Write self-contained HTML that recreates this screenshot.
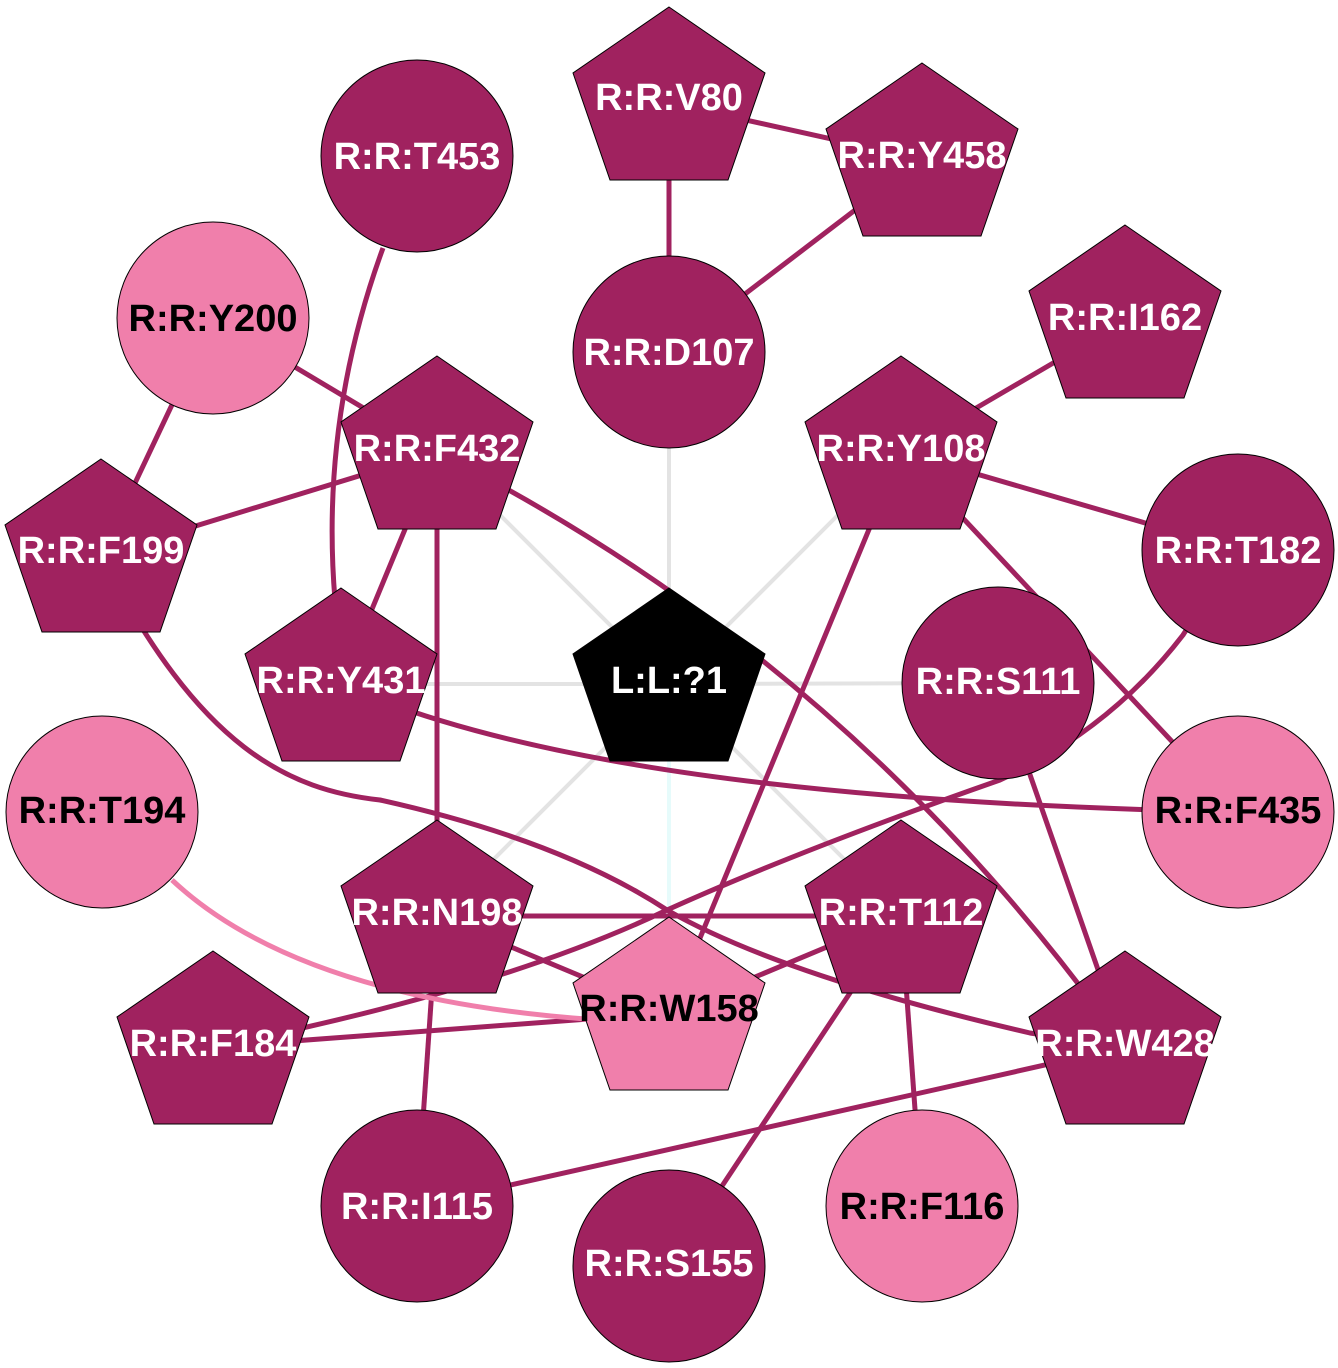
<!DOCTYPE html>
<html><head><meta charset="utf-8"><style>body{margin:0;background:#fff}svg{display:block}</style></head><body>
<svg width="1338" height="1368" viewBox="0 0 1338 1368" xmlns="http://www.w3.org/2000/svg">
<defs>
<polygon id="pent" points="0,-96 96,-30 59,77 -59,77 -96,-30" stroke="#000" stroke-width="1"/>
</defs>
<g stroke="#e3e3e3" stroke-width="4" fill="none">
<line x1="669" y1="684" x2="669" y2="352"/>
<line x1="669" y1="684" x2="901" y2="452"/>
<line x1="669" y1="684" x2="998" y2="683"/>
<line x1="669" y1="684" x2="901" y2="916"/>
<line x1="669" y1="684" x2="437" y2="916"/>
<line x1="669" y1="684" x2="341" y2="684"/>
<line x1="669" y1="684" x2="437" y2="452"/>
<line x1="669" y1="684" x2="669" y2="1013" stroke="#e6fbfb"/>
</g>
<g stroke="#a0225f" stroke-width="5" fill="none">
<line x1="669" y1="103" x2="922" y2="159"/>
<line x1="669" y1="103" x2="669" y2="352"/>
<line x1="922" y1="159" x2="669" y2="352"/>
<line x1="1125" y1="321" x2="901" y2="452"/>
<line x1="901" y1="452" x2="1238" y2="550"/>
<line x1="901" y1="452" x2="1238" y2="812"/>
<line x1="901" y1="452" x2="669" y2="1013"/>
<path d="M383,248 Q320,420 335,600"/>
<line x1="213" y1="318" x2="437" y2="452"/>
<line x1="213" y1="318" x2="101" y2="555"/>
<line x1="101" y1="555" x2="437" y2="452"/>
<line x1="437" y1="452" x2="341" y2="684"/>
<line x1="437" y1="452" x2="437" y2="916"/>
<path d="M437,452 Q850,660 1125,1047"/>
<path d="M101,555 C200,750 290,790 380,800 Q560,840 667,910 Q780,975 1030,1033 L1125,1047"/>
<path d="M341,684 Q600,800 1238,812"/>
<path d="M1238,550 L1183,635 Q1110,730 1000,780 Q800,850 667,910 Q500,990 213,1047"/>
<line x1="998" y1="683" x2="1125" y2="1047"/>
<line x1="437" y1="916" x2="901" y2="916"/>
<line x1="437" y1="916" x2="669" y2="1013"/>
<line x1="901" y1="916" x2="669" y2="1013"/>
<line x1="437" y1="916" x2="417" y2="1206"/>
<line x1="901" y1="916" x2="922" y2="1206"/>
<line x1="901" y1="916" x2="669" y2="1266"/>
<line x1="669" y1="1013" x2="213" y2="1047"/>
<line x1="1125" y1="1047" x2="417" y2="1206"/>
<path d="M172,880 Q300,1000 600,1020" stroke="#f07fab"/>
</g>
<g fill="#a0225f" stroke="#000" stroke-width="1">
<circle cx="417" cy="156" r="96"/>
<circle cx="669" cy="352" r="96"/>
<circle cx="213" cy="318" r="96" fill="#f07fab"/>
<circle cx="1238" cy="550" r="96"/>
<circle cx="998" cy="683" r="96"/>
<circle cx="102" cy="812" r="96" fill="#f07fab"/>
<circle cx="1238" cy="812" r="96" fill="#f07fab"/>
<circle cx="417" cy="1206" r="96"/>
<circle cx="669" cy="1266" r="96"/>
<circle cx="922" cy="1206" r="96" fill="#f07fab"/>
</g>
<g fill="#a0225f">
<use href="#pent" x="669" y="103"/>
<use href="#pent" x="922" y="159"/>
<use href="#pent" x="1125" y="321"/>
<use href="#pent" x="437" y="452"/>
<use href="#pent" x="901" y="452"/>
<use href="#pent" x="101" y="555"/>
<use href="#pent" x="341" y="684"/>
<use href="#pent" x="669" y="684" fill="#000"/>
<use href="#pent" x="437" y="916"/>
<use href="#pent" x="901" y="916"/>
<use href="#pent" x="669" y="1013" fill="#f07fab"/>
<use href="#pent" x="213" y="1047"/>
<use href="#pent" x="1125" y="1047"/>
</g>
<g font-family="Liberation Sans, sans-serif" font-weight="bold" font-size="38" text-anchor="middle" fill="#fff">
<text x="669" y="110">R:R:V80</text>
<text x="922" y="168">R:R:Y458</text>
<text x="417" y="169">R:R:T453</text>
<text x="669" y="365">R:R:D107</text>
<text x="1125" y="330">R:R:I162</text>
<text x="213" y="331" fill="#000">R:R:Y200</text>
<text x="437" y="461">R:R:F432</text>
<text x="901" y="461">R:R:Y108</text>
<text x="101" y="563">R:R:F199</text>
<text x="1238" y="563">R:R:T182</text>
<text x="341" y="693">R:R:Y431</text>
<text x="669" y="693">L:L:?1</text>
<text x="998" y="694">R:R:S111</text>
<text x="102" y="823" fill="#000">R:R:T194</text>
<text x="1238" y="823" fill="#000">R:R:F435</text>
<text x="437" y="925">R:R:N198</text>
<text x="901" y="925">R:R:T112</text>
<text x="669" y="1021" fill="#000">R:R:W158</text>
<text x="213" y="1056">R:R:F184</text>
<text x="1125" y="1056">R:R:W428</text>
<text x="417" y="1219">R:R:I115</text>
<text x="669" y="1276">R:R:S155</text>
<text x="922" y="1219" fill="#000">R:R:F116</text>
</g>
</svg>
</body></html>
